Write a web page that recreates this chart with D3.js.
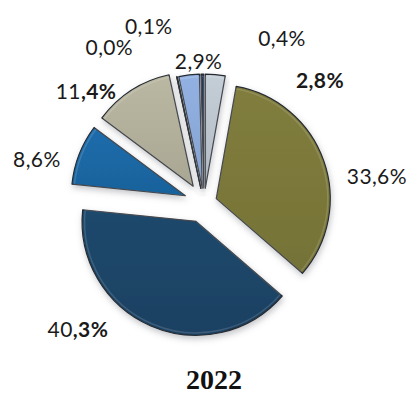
<!DOCTYPE html>
<html>
<head>
<meta charset="utf-8">
<script src="https://cdn.jsdelivr.net/npm/d3@7"></script>
<style>
  html, body { margin: 0; padding: 0; background: #ffffff; }
  svg { display: block; }
</style>
</head>
<body>
<div id="chart"></div>
<script>
// Shares for 2022, clockwise from 12 o'clock
const values = [2.8, 33.6, 40.3, 8.6, 11.4, 0.0, 0.1, 2.9, 0.4];
const title = "2022";

// Slice styling
const fills   = ["#bcc5ce", "#7b783a", "#1b4567", "#1a67a4", "#b2b09b", "#9aa6b4", "#9aa6b4", "#8caad9", "#22375c"];
const explode = [15, 13, 20, 20, 20, 15, 15, 15, 15];
// Label placement tweaks (dx, dy) and index where the bold run starts (-1: none)
const labelNudge = [[102, 34], [23, 25], [-63, -21], [-19, 13], [-32, 21], [-61, -2], [-22, -23], [13, 15], [80, -7.5]];
const boldFrom   = [0, -1, 2, -1, 2, -1, -1, -1, -1];

const W = 410, H = 396;
const cx = 204, cy = 203, R = 114, labelR = R + 45;

const svg = d3.select("#chart").append("svg").attr("width", W).attr("height", H);
const defs = svg.append("defs");

// soft shadow under each slice
const sh = defs.append("filter").attr("id", "shadow")
  .attr("x", "-20%").attr("y", "-20%").attr("width", "140%").attr("height", "140%");
sh.append("feDropShadow").attr("dx", 1).attr("dy", 3).attr("stdDeviation", 3)
  .attr("flood-color", "#6a7078").attr("flood-opacity", 0.4);

// subtle shading per slice
fills.forEach((c, i) => {
  const g = defs.append("linearGradient").attr("id", "g" + i)
    .attr("x1", "0%").attr("y1", "0%").attr("x2", "0%").attr("y2", "100%");
  g.append("stop").attr("offset", "0%").attr("stop-color", d3.color(c).brighter(0.12));
  g.append("stop").attr("offset", "50%").attr("stop-color", c);
  g.append("stop").attr("offset", "100%").attr("stop-color", d3.color(c).darker(0.15));
});

const pie = d3.pie().sort(null).value(d => d).startAngle(0).endAngle(2 * Math.PI);
const arcs = pie(values);
const arc = d3.arc().innerRadius(0).outerRadius(R);
const mid = d => (d.startAngle + d.endAngle) / 2;
const dir = a => [Math.sin(a), -Math.cos(a)];
const shift = (d, i) => {
  const [ux, uy] = dir(mid(d));
  return `translate(${ux * explode[i]},${uy * explode[i]})`;
};

const root = svg.append("g").attr("transform", `translate(${cx},${cy})`);

root.selectAll("path.slice")
  .data(arcs)
  .join("path")
  .attr("class", "slice")
  .attr("d", arc)
  .attr("transform", shift)
  .attr("fill", (d, i) => `url(#g${i})`)
  .attr("stroke", "#252a30")
  .attr("stroke-width", 1.2)
  .attr("stroke-linejoin", "round")
  .attr("filter", "url(#shadow)");

// inner light rim for a bevelled look
root.selectAll("path.rim")
  .data(arcs)
  .join("path")
  .attr("class", "rim")
  .attr("d", d3.arc().innerRadius(0).outerRadius(R - 2.5))
  .attr("transform", shift)
  .attr("fill", "none")
  .attr("stroke", "#ffffff")
  .attr("stroke-opacity", d => d.value > 0.2 ? 0.14 : 0)
  .attr("stroke-width", 1.5);

const fmt = v => v.toFixed(1).replace(".", ",") + "%";

const labels = root.selectAll("text.lbl")
  .data(arcs)
  .join("text")
  .attr("class", "lbl")
  .attr("x", (d, i) => dir(mid(d))[0] * labelR + labelNudge[i][0])
  .attr("y", (d, i) => dir(mid(d))[1] * labelR + labelNudge[i][1])
  .attr("text-anchor", "middle")
  .attr("dominant-baseline", "central")
  .attr("font-family", "Lato, 'Open Sans', sans-serif")
  .attr("font-size", 21)
  .attr("letter-spacing", 0.4)
  .attr("fill", "#1a1a1a");

labels.each(function (d, i) {
  const s = fmt(d.value);
  const t = d3.select(this);
  const b = boldFrom[i];
  if (b < 0) {
    t.append("tspan").text(s);
  } else {
    if (b > 0) t.append("tspan").text(s.slice(0, b));
    t.append("tspan").attr("font-weight", "bold").text(s.slice(b));
  }
});

svg.append("text")
  .attr("x", 214)
  .attr("y", 389)
  .attr("text-anchor", "middle")
  .attr("font-family", "'Liberation Serif', 'Times New Roman', serif")
  .attr("font-weight", "bold")
  .attr("font-size", 28)
  .attr("fill", "#111")
  .text(title);
</script>
</body>
</html>
